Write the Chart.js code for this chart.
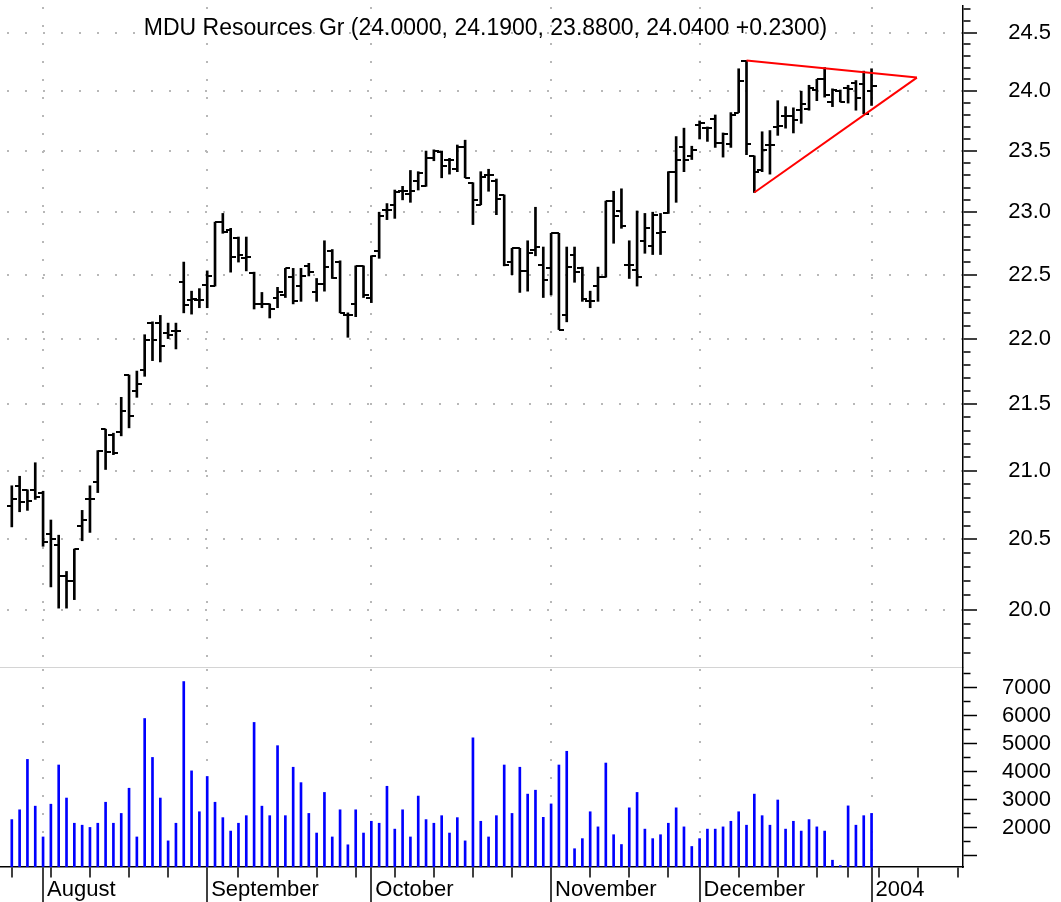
<!DOCTYPE html>
<html>
<head>
<meta charset="utf-8">
<script src="https://cdn.jsdelivr.net/npm/chart.js@4.4.1/dist/chart.umd.min.js"></script>
<style>
    html, body { margin: 0; padding: 0; background: #fff; }
    #wrap { position: relative; width: 1061px; height: 902px; overflow: hidden; }
    #priceBox { position: absolute; left: 0; top: 0; width: 1061px; height: 668px; }
    #volumeBox { position: absolute; left: 0; top: 668px; width: 1061px; height: 234px; }
</style>
</head>
<body>
<div id="wrap">
    <div id="priceBox"><canvas id="priceChart"></canvas></div>
    <div id="volumeBox"><canvas id="volumeChart"></canvas></div>
</div>
<script>
// Daily bars 28 Jul 2003 .. 2 Jan 2004, index 0 = first bar
const opens = [
    20.74, 20.89, 20.86, 20.86, 20.84, 20.54, 20.46, 20.24, 20.20, 20.60,
    20.79, 20.92, 21.31, 21.27, 21.29, 21.72, 21.60, 21.76, 22.12, 22.12,
    22.04, 22.06, 22.44, 22.30, 22.30, 22.42, 22.41, 22.92, 22.86, 22.79,
    22.63, 22.51, 22.27, 22.27, 22.32, 22.34, 22.48, 22.41, 22.57, 22.36,
    22.43, 22.69, 22.60, 22.18, 22.27, 22.57, 22.32, 22.69, 23.02, 23.06,
    23.17, 23.15, 23.25, 23.21, 23.44, 23.49, 23.43, 23.35, 23.53, 23.24,
    23.06, 23.30, 23.25, 23.14, 22.60, 22.71, 22.53, 22.70, 22.58, 22.55,
    22.83, 22.18, 22.66, 22.55, 22.29, 22.41, 22.48, 23.09, 23.01, 22.58,
    22.54, 22.77, 22.73, 22.83, 22.99, 23.33, 23.53, 23.46, 23.72, 23.69,
    23.77, 23.57, 23.56, 23.82, 24.26, 23.46, 23.34, 23.55, 23.70, 23.79,
    23.79, 23.84, 23.85, 24.01, 24.10, 23.91, 24.00, 24.03, 24.07, 24.06,
    24.00
];
const highs = [
    20.89, 20.96, 20.86, 21.06, 20.85, 20.64, 20.53, 20.27, 20.43, 20.71,
    20.89, 21.15, 21.31, 21.28, 21.55, 21.72, 21.75, 22.03, 22.13, 22.18,
    22.12, 22.12, 22.60, 22.37, 22.39, 22.53, 22.92, 22.99, 22.87, 22.80,
    22.80, 22.52, 22.36, 22.27, 22.40, 22.55, 22.55, 22.55, 22.59, 22.47,
    22.77, 22.70, 22.61, 22.20, 22.57, 22.57, 22.65, 23.00, 23.07, 23.18,
    23.21, 23.34, 23.33, 23.50, 23.51, 23.50, 23.44, 23.55, 23.59, 23.24,
    23.33, 23.35, 23.27, 23.14, 22.71, 22.71, 22.77, 23.04, 22.72, 22.83,
    22.83, 22.72, 22.72, 22.56, 22.37, 22.56, 23.09, 23.17, 23.19, 22.77,
    23.01, 22.99, 23.00, 22.99, 23.33, 23.62, 23.69, 23.54, 23.75, 23.70,
    23.80, 23.65, 23.82, 24.19, 24.26, 23.46, 23.66, 23.67, 23.92, 23.87,
    23.86, 24.00, 24.05, 24.10, 24.20, 24.02, 24.01, 24.05, 24.09, 24.17,
    24.19
];
const lows = [
    20.59, 20.70, 20.71, 20.79, 20.45, 20.16, 20.01, 20.01, 20.07, 20.49,
    20.55, 20.84, 21.01, 21.12, 21.26, 21.32, 21.55, 21.71, 21.83, 21.82,
    22.00, 21.92, 22.20, 22.19, 22.24, 22.24, 22.41, 22.83, 22.52, 22.60,
    22.53, 22.23, 22.24, 22.16, 22.24, 22.32, 22.27, 22.29, 22.49, 22.29,
    22.37, 22.47, 22.20, 22.01, 22.17, 22.32, 22.28, 22.63, 22.94, 22.95,
    23.10, 23.08, 23.18, 23.21, 23.42, 23.28, 23.31, 23.33, 23.28, 22.90,
    23.06, 23.17, 22.98, 22.57, 22.50, 22.36, 22.37, 22.65, 22.32, 22.34,
    22.07, 22.13, 22.44, 22.29, 22.24, 22.29, 22.48, 22.75, 22.87, 22.47,
    22.41, 22.67, 22.66, 22.66, 22.99, 23.08, 23.33, 23.43, 23.60, 23.58,
    23.53, 23.45, 23.53, 23.82, 23.47, 23.16, 23.33, 23.31, 23.63, 23.69,
    23.65, 23.73, 23.84, 23.92, 23.95, 23.87, 23.91, 23.90, 23.84, 23.81,
    23.88
];
const closes = [
    20.79, 20.77, 20.78, 20.81, 20.48, 20.50, 20.24, 20.20, 20.43, 20.64,
    20.79, 21.15, 21.14, 21.13, 21.45, 21.41, 21.65, 21.99, 21.99, 21.94,
    22.03, 22.06, 22.26, 22.31, 22.30, 22.49, 22.92, 22.84, 22.64, 22.66,
    22.64, 22.27, 22.27, 22.23, 22.36, 22.55, 22.29, 22.49, 22.52, 22.43,
    22.56, 22.47, 22.20, 22.18, 22.57, 22.34, 22.65, 22.97, 23.02, 23.16,
    23.17, 23.17, 23.32, 23.44, 23.50, 23.38, 23.43, 23.53, 23.28, 23.10,
    23.29, 23.30, 23.11, 22.58, 22.71, 22.53, 22.67, 22.72, 22.46, 22.83,
    22.07, 22.56, 22.52, 22.31, 22.29, 22.48, 23.09, 22.97, 22.89, 22.58,
    22.48, 22.87, 22.98, 22.84, 23.33, 23.43, 23.43, 23.51, 23.73, 23.69,
    23.57, 23.64, 23.80, 24.09, 23.56, 23.33, 23.51, 23.55, 23.71, 23.79,
    23.76, 23.89, 24.03, 24.10, 23.97, 24.01, 23.91, 24.02, 23.94, 23.81,
    24.04
];
const volumes = [
    2300, 2650, 4450, 2780, 1680, 2850, 4250, 3070, 2170, 2100,
    2020, 2170, 2920, 2170, 2520, 3420, 1680, 5910, 4520, 3070,
    1540, 2170, 7230, 4040, 2580, 3840, 2920, 2370, 1890, 2170,
    2440, 5770, 2780, 2440, 4940, 2440, 4170, 3620, 2520, 1820,
    3270, 1680, 2650, 1400, 2650, 1820, 2240, 2170, 3490, 1960,
    2650, 1680, 3140, 2300, 2170, 2440, 1820, 2370, 1540, 5220,
    2240, 1680, 2440, 4250, 2520, 4170, 3210, 3350, 2380, 2860,
    4250, 4740, 1260, 1620, 2580, 2040, 4320, 1760, 1410, 2720,
    3270, 1960, 1620, 1760, 2170, 2720, 2040, 1340, 1620, 1960,
    1960, 2040, 2240, 2580, 2100, 3210, 2440, 2100, 3000, 1960,
    2240, 1890, 2300, 2040, 1890, 850, 655, 2790, 2100, 2440,
    2520
];

// Bar index of first trading day of each month / of each week
const monthTicks = [4, 25, 46, 69, 88, 110];
const monthLabels = ['August', 'September', 'October', 'November', 'December', '2004'];
const weekTicks = [0, 5, 10, 15, 20, 29, 34, 39, 44, 49, 54, 59, 64, 74, 79, 84, 93, 98, 103, 107, 111, 116, 121];

const priceLabels = [20.0, 20.5, 21.0, 21.5, 22.0, 22.5, 23.0, 23.5, 24.0, 24.5];
const volumeLabels = [2000, 3000, 4000, 5000, 6000, 7000];

// Triangle drawn on the chart
const triangleTop = [{ x: 94, y: 24.26 }, { x: 115.8, y: 24.115 }];
const triangleBottom = [{ x: 95, y: 23.16 }, { x: 115.8, y: 24.115 }];

const chartTitle = 'MDU Resources Gr (24.0000, 24.1900, 23.8800, 24.0400 +0.2300)';

const FONT_FAMILY = "'Liberation Sans', Arial, Helvetica, sans-serif";
const GRID_COLOR = '#b8b8b8';
const NONE = 'rgba(0,0,0,0)';
const X_MIN = -1.51;
const X_MAX = 121.7;
const AXIS_WIDTH = 88;
const RIGHT_PAD = 10;

Chart.defaults.font.family = FONT_FAMILY;
Chart.defaults.color = '#000';

function isStep(value, step) {
    const r = value / step;
    return Math.abs(r - Math.round(r)) < 1e-6;
}

// Small open / close ticks used as point images
function tickImage(side) {
    const c = document.createElement('canvas');
    c.width = 10;
    c.height = 2;
    const g = c.getContext('2d');
    g.fillStyle = '#000';
    g.fillRect(side === 'left' ? 0 : 5, 0, 5, 2);
    return c;
}

const paneTitle = {
    id: 'paneTitle',
    afterDraw(chart, args, opts) {
        const { ctx, chartArea } = chart;
        ctx.save();
        ctx.font = opts.size + 'px ' + FONT_FAMILY;
        ctx.fillStyle = '#000';
        ctx.textAlign = 'center';
        ctx.textBaseline = 'middle';
        ctx.fillText(opts.text, (chartArea.left + chartArea.right) / 2 + opts.dx, chartArea.top + opts.dy);
        ctx.restore();
    }
};

window.StockChart = {
    charts: {},

    createPriceChart: function (canvasId) {
        const ctx = document.getElementById(canvasId).getContext('2d');

        this.charts[canvasId] = new Chart(ctx, {
            type: 'bar',
            data: {
                datasets: [
                    { type: 'line', data: triangleTop, borderColor: '#ff0000', borderWidth: 2, pointRadius: 0, order: 0 },
                    { type: 'line', data: triangleBottom, borderColor: '#ff0000', borderWidth: 2, pointRadius: 0, order: 0 },
                    {
                        type: 'line',
                        data: opens.map((v, i) => ({ x: i, y: v })),
                        showLine: false,
                        pointStyle: tickImage('left'),
                        pointRadius: 3,
                        order: 1
                    },
                    {
                        type: 'line',
                        data: closes.map((v, i) => ({ x: i, y: v })),
                        showLine: false,
                        pointStyle: tickImage('right'),
                        pointRadius: 3,
                        order: 1
                    },
                    {
                        type: 'bar',
                        data: highs.map((h, i) => ({ x: i, y: [lows[i], h] })),
                        backgroundColor: '#000',
                        barThickness: 2,
                        order: 2
                    }
                ]
            },
            options: {
                responsive: true,
                maintainAspectRatio: false,
                animation: false,
                events: [],
                layout: { autoPadding: false, padding: { top: 6, bottom: 1, left: 0, right: RIGHT_PAD } },
                plugins: {
                    legend: { display: false },
                    tooltip: { enabled: false },
                    paneTitle: { text: chartTitle, size: 23, dx: 4, dy: 23 }
                },
                scales: {
                    x: {
                        type: 'linear',
                        min: X_MIN,
                        max: X_MAX,
                        offset: false,
                        afterBuildTicks: s => { s.ticks = monthTicks.map(v => ({ value: v })); },
                        afterFit: s => { s.height = 0; s.paddingLeft = 0; s.paddingRight = 0; },
                        ticks: { display: false },
                        grid: { color: GRID_COLOR, lineWidth: 2, drawTicks: false, offset: false },
                        border: { color: '#d4d4d4', width: 1, dash: [2, 16], dashOffset: 17 }
                    },
                    y: {
                        type: 'logarithmic',
                        position: 'right',
                        min: 19.62,
                        max: 24.73,
                        afterBuildTicks: s => {
                            const t = [];
                            for (let v = 197; v <= 247; v++) t.push({ value: v / 10 });
                            s.ticks = t;
                        },
                        afterFit: s => { s.width = AXIS_WIDTH; s.paddingTop = 0; s.paddingBottom = 0; },
                        ticks: {
                            autoSkip: false,
                            crossAlign: 'far',
                            padding: 20,
                            font: { size: 22 },
                            callback: v => priceLabels.some(p => Math.abs(p - v) < 1e-6) ? v.toFixed(1) : ''
                        },
                        grid: {
                            color: c => c.tick && isStep(c.tick.value, 0.5) ? GRID_COLOR : NONE,
                            lineWidth: 2,
                            tickLength: 14,
                            tickColor: '#000',
                            tickWidth: 1.5,
                            tickBorderDash: c => c.tick && isStep(c.tick.value, 0.5) ? [] : [7, 100]
                        },
                        border: { color: '#000', width: 1.5, dash: [2, 16], dashOffset: 11 }
                    }
                }
            },
            plugins: [paneTitle]
        });
    },

    createVolumeChart: function (canvasId) {
        const ctx = document.getElementById(canvasId).getContext('2d');
        const allTicks = weekTicks.concat(monthTicks).sort((a, b) => a - b);

        this.charts[canvasId] = new Chart(ctx, {
            type: 'bar',
            data: {
                datasets: [{
                    data: volumes.map((v, i) => ({ x: i, y: v })),
                    backgroundColor: '#0000ff',
                    barThickness: 2
                }]
            },
            options: {
                responsive: true,
                maintainAspectRatio: false,
                animation: false,
                events: [],
                layout: { autoPadding: false, padding: { top: 0, bottom: 0, left: 0, right: RIGHT_PAD } },
                plugins: {
                    legend: { display: false },
                    tooltip: { enabled: false }
                },
                scales: {
                    x: {
                        type: 'linear',
                        min: X_MIN,
                        max: X_MAX,
                        offset: false,
                        afterBuildTicks: s => { s.ticks = allTicks.map(v => ({ value: v })); },
                        afterFit: s => { s.height = 35; s.paddingLeft = 0; s.paddingRight = 0; },
                        ticks: {
                            autoSkip: false,
                            maxRotation: 0,
                            minRotation: 0,
                            align: 'start',
                            labelOffset: 4,
                            padding: -25,
                            font: { size: 22 },
                            callback: v => {
                                const k = monthTicks.indexOf(v);
                                return k >= 0 ? monthLabels[k] : '';
                            }
                        },
                        grid: {
                            color: c => c.tick && monthTicks.includes(c.tick.value) ? GRID_COLOR : NONE,
                            lineWidth: 2,
                            offset: false,
                            tickLength: 35,
                            tickColor: '#000',
                            tickWidth: 1.5,
                            tickBorderDash: c => c.tick && monthTicks.includes(c.tick.value) ? [] : [10, 100]
                        },
                        border: { color: '#000', width: 1.5, dash: [2, 16], dashOffset: 17 }
                    },
                    y: {
                        type: 'linear',
                        position: 'right',
                        min: 607,
                        max: 7714,
                        beginAtZero: false,
                        afterBuildTicks: s => {
                            const t = [];
                            for (let v = 1000; v <= 7500; v += 500) t.push({ value: v });
                            s.ticks = t;
                        },
                        afterFit: s => { s.width = AXIS_WIDTH; s.paddingTop = 0; s.paddingBottom = 0; },
                        ticks: {
                            autoSkip: false,
                            crossAlign: 'far',
                            padding: 16,
                            font: { size: 22 },
                            callback: v => volumeLabels.includes(v) ? String(v) : ''
                        },
                        grid: {
                            drawOnChartArea: false,
                            tickLength: 14,
                            tickColor: '#000',
                            tickWidth: 1.5,
                            tickBorderDash: c => c.tick && isStep(c.tick.value, 1000) ? [] : [7, 100]
                        },
                        border: { color: '#000', width: 1.5 }
                    }
                }
            }
        });
    }
};

StockChart.createPriceChart('priceChart');
StockChart.createVolumeChart('volumeChart');
</script>
</body>
</html>
